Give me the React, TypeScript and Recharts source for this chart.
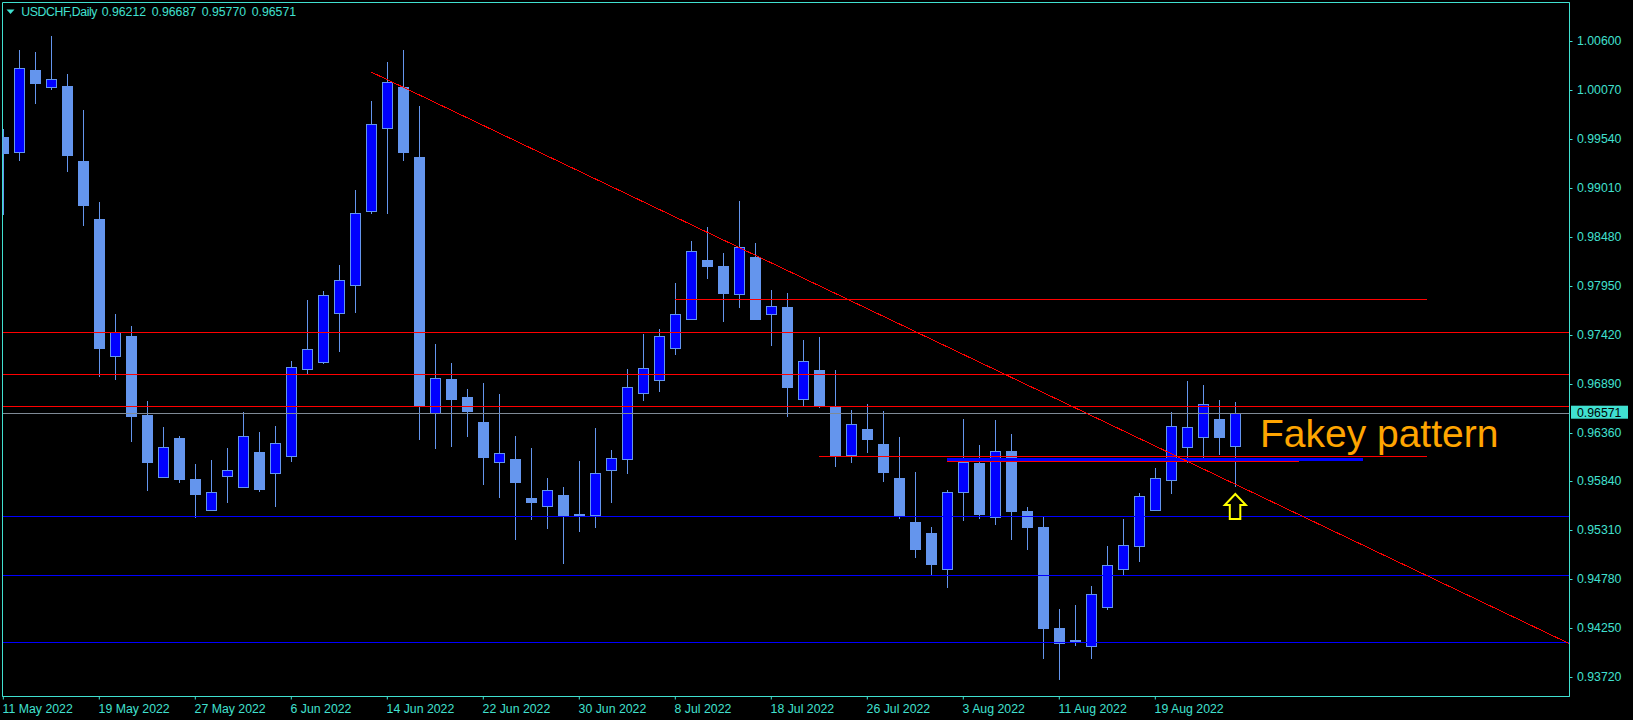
import React from 'react';
import { ComposedChart, Bar, XAxis, YAxis, ReferenceLine, ReferenceDot, ReferenceArea } from 'recharts';

// daily candles USDCHF, 11 May - 26 Aug 2022
const dates = [
  '11 May 2022', '12 May 2022', '13 May 2022', '16 May 2022', '17 May 2022', '18 May 2022', '19 May 2022', '20 May 2022',
  '23 May 2022', '24 May 2022', '25 May 2022', '26 May 2022', '27 May 2022', '30 May 2022', '31 May 2022',
  '1 Jun 2022', '2 Jun 2022', '3 Jun 2022', '6 Jun 2022', '7 Jun 2022', '8 Jun 2022', '9 Jun 2022', '10 Jun 2022',
  '13 Jun 2022', '14 Jun 2022', '15 Jun 2022', '16 Jun 2022', '17 Jun 2022', '20 Jun 2022', '21 Jun 2022', '22 Jun 2022',
  '23 Jun 2022', '24 Jun 2022', '27 Jun 2022', '28 Jun 2022', '29 Jun 2022', '30 Jun 2022',
  '1 Jul 2022', '4 Jul 2022', '5 Jul 2022', '6 Jul 2022', '7 Jul 2022', '8 Jul 2022', '11 Jul 2022', '12 Jul 2022',
  '13 Jul 2022', '14 Jul 2022', '15 Jul 2022', '18 Jul 2022', '19 Jul 2022', '20 Jul 2022', '21 Jul 2022', '22 Jul 2022',
  '25 Jul 2022', '26 Jul 2022', '27 Jul 2022', '28 Jul 2022', '29 Jul 2022',
  '1 Aug 2022', '2 Aug 2022', '3 Aug 2022', '4 Aug 2022', '5 Aug 2022', '8 Aug 2022', '9 Aug 2022', '10 Aug 2022',
  '11 Aug 2022', '12 Aug 2022', '15 Aug 2022', '16 Aug 2022', '17 Aug 2022', '18 Aug 2022', '19 Aug 2022',
  '22 Aug 2022', '23 Aug 2022', '24 Aug 2022', '25 Aug 2022', '26 Aug 2022',
];

const opens = [
  0.99558, 0.99399, 1.00283, 1.00103, 1.0011, 0.99299, 0.98672, 0.97187, 0.97406, 0.96552,
  0.95878, 0.96303, 0.95859, 0.95521, 0.95889, 0.9577, 0.96148, 0.95921, 0.96105, 0.97046,
  0.97128, 0.97652, 0.97954, 0.98755, 0.99653, 1.00096, 0.99342, 0.9657, 0.96941, 0.96746,
  0.96476, 0.96046, 0.96076, 0.95651, 0.95571, 0.95686, 0.95478, 0.95473, 0.9596, 0.96079,
  0.96786, 0.96933, 0.97273, 0.97587, 0.98225, 0.98163, 0.97857, 0.9826, 0.97641, 0.9772,
  0.96721, 0.97038, 0.96649, 0.96122, 0.964, 0.96238, 0.9587, 0.95394, 0.95275, 0.94883,
  0.95715, 0.96032, 0.95445, 0.96162, 0.95513, 0.9534, 0.94248, 0.94118, 0.94056, 0.94478,
  0.94889, 0.95138, 0.95527, 0.95845, 0.96209, 0.96317, 0.96508, 0.96212,
];
const highs = [
  0.99645, 1.00499, 1.00478, 1.00651, 1.0024, 0.9985, 0.98855, 0.97644, 0.97514, 0.96703,
  0.96422, 0.96324, 0.96022, 0.96065, 0.96195, 0.96584, 0.96368, 0.96433, 0.97136, 0.97795,
  0.97893, 0.98174, 0.98985, 0.99948, 1.0037, 1.00499, 0.99894, 0.9732, 0.97114, 0.96833,
  0.96898, 0.96779, 0.96324, 0.96195, 0.9587, 0.95773, 0.96054, 0.96411, 0.96173, 0.97049,
  0.97428, 0.97479, 0.97979, 0.98434, 0.98585, 0.98304, 0.98866, 0.98412, 0.97904, 0.97871,
  0.97363, 0.97395, 0.97038, 0.96606, 0.96671, 0.96595, 0.96314, 0.95935, 0.9534, 0.9574,
  0.96508, 0.96227, 0.96497, 0.96346, 0.95557, 0.95448, 0.94453, 0.94497, 0.94702, 0.95135,
  0.95427, 0.95708, 0.95978, 0.96581, 0.96919, 0.96876, 0.96714, 0.96687,
];
const lows = [
  0.98715, 0.99299, 0.99919, 1.00067, 0.9918, 0.98596, 0.96966, 0.9693, 0.96263, 0.95733,
  0.9587, 0.95819, 0.95441, 0.95515, 0.95603, 0.95765, 0.95722, 0.9556, 0.96046, 0.96998,
  0.97106, 0.9723, 0.97658, 0.98729, 0.98729, 0.99299, 0.96281, 0.96187, 0.96205, 0.96314,
  0.95794, 0.95654, 0.952, 0.95416, 0.95319, 0.9494, 0.95286, 0.95329, 0.956, 0.95913,
  0.96703, 0.96804, 0.97204, 0.9758, 0.98026, 0.97561, 0.97712, 0.97582, 0.97301, 0.96533,
  0.96649, 0.96627, 0.95992, 0.96036, 0.96144, 0.9583, 0.9543, 0.95008, 0.94813, 0.94684,
  0.95408, 0.9543, 0.95365, 0.95203, 0.95095, 0.93916, 0.93689, 0.94056, 0.93916, 0.94442,
  0.94813, 0.94965, 0.95517, 0.957, 0.96032, 0.96065, 0.96119, 0.9577,
];
const closes = [
  0.99389, 1.00302, 1.00146, 1.00183, 0.99367, 0.98823, 0.9728, 0.97446, 0.96544, 0.96046,
  0.96202, 0.95863, 0.957, 0.95715, 0.95953, 0.96321, 0.95754, 0.96246, 0.97068, 0.97262,
  0.97846, 0.98009, 0.98733, 0.99696, 1.0015, 0.99399, 0.96649, 0.96949, 0.96725, 0.96595,
  0.96097, 0.96137, 0.95827, 0.95611, 0.95737, 0.95473, 0.95474, 0.95921, 0.96083, 0.96851,
  0.97057, 0.97403, 0.97641, 0.98322, 0.98166, 0.97874, 0.98365, 0.97593, 0.97727, 0.96858,
  0.97132, 0.96649, 0.96108, 0.96451, 0.96295, 0.95938, 0.95462, 0.95106, 0.94943, 0.95715,
  0.9604, 0.95484, 0.96159, 0.95517, 0.95343, 0.94251, 0.94089, 0.94096, 0.94612, 0.94926,
  0.95142, 0.95672, 0.95867, 0.96429, 0.96419, 0.96671, 0.96317, 0.96571,
];

const priceTicks = [1.006, 1.0007, 0.9954, 0.9901, 0.9848, 0.9795, 0.9742, 0.9689, 0.9636, 0.9584, 0.9531, 0.9478, 0.9425, 0.9372];
const dateTicks = [0, 6, 12, 18, 24, 30, 36, 42, 48, 54, 60, 66, 72];
const lastPrice = 0.96571;
const headerValues = ['0.96212', '0.96687', '0.95770', '0.96571'];

// levels drawn across the whole chart
const redLevels = [0.97446, 0.96992, 0.96645];
const blueLevels = [0.95456, 0.94818, 0.94093];
// shorter levels: [price, from bar, to bar]
const redSegments = [
  [0.97801, 42, 89],
  [0.96103, 51, 89],
  [0.96052, 59, 81],
];
const blueZone = [0.9607, 59, 85];
// trend line: [bar, price] start and end
const trend = [
  [23, 1.00261],
  [97.8875, 0.94078],
];
const arrowAt = [77, 0.95697];
const noteAt = [78.54, 0.96209];

const xDomain = [-0.05, 97.8875];
const yDomain = [0.935069, 1.010132];

const data = dates.map((d, i) => ({ i, date: d, o: opens[i], h: highs[i], l: lows[i], c: closes[i] }));

const TEAL = '#40E0D0';
const EDGE = '#6495ED';
const FONT = '"Liberation Sans", Arial, sans-serif';

const Candle = (props: any) => {
  const { x, y, width, height, payload } = props;
  if (x == null || y == null) return null;
  const { o, h, l, c } = payload;
  const span = h - l || 1e-9;
  const py = (p: number) => y + ((h - p) / span) * height;
  const cx = Math.round(x + width / 2) + 0.5;
  const top = Math.round(py(Math.max(o, c))) + 0.5;
  const bot = Math.round(py(Math.min(o, c))) + 0.5;
  const up = c > o;
  return (
    <g>
      <line x1={cx} x2={cx} y1={Math.round(y)} y2={Math.round(y + height)} stroke={EDGE} strokeWidth={1} />
      {bot - top < 1 ? (
        <line x1={cx - 5.5} x2={cx + 5.5} y1={top} y2={top} stroke={EDGE} strokeWidth={1} />
      ) : (
        <rect x={cx - 5} y={top} width={10} height={bot - top} fill={up ? '#0000FF' : EDGE} stroke={EDGE} strokeWidth={1} />
      )}
    </g>
  );
};

const DateTick = (props: any) => {
  const { x, y, payload } = props;
  return (
    <text x={x - 0.7} y={y + 11} fill={TEAL} fontSize={12.3} fontFamily={FONT} textAnchor="start">
      {dates[payload.value]}
    </text>
  );
};

const PriceTick = (props: any) => {
  const { x, y, payload } = props;
  const v = payload.value;
  if (v === lastPrice) {
    return (
      <g>
        <rect x={x + 1.5} y={y - 7.5} width={57} height={13} fill={TEAL} />
        <text x={x + 7.5} y={y - 1} dy="0.355em" fill="#000" fontSize={12.3} fontFamily={FONT}>
          {v.toFixed(5)}
        </text>
      </g>
    );
  }
  return (
    <g>
      <line x1={x} x2={x + 3} y1={Math.round(y) + 0.5} y2={Math.round(y) + 0.5} stroke={TEAL} />
      <text x={x + 7.5} y={y} dy="0.355em" fill={TEAL} fontSize={12.3} fontFamily={FONT}>
        {v.toFixed(5)}
      </text>
    </g>
  );
};

const Arrow = (props: any) => {
  const { cx, cy } = props;
  const d = `M${cx},${cy} L${cx + 10.5},${cy + 11} L${cx + 5},${cy + 11} L${cx + 5},${cy + 25} L${cx - 5.5},${cy + 25} L${cx - 5.5},${cy + 11} L${cx - 10.5},${cy + 11} Z`;
  return <path d={d} fill="#000" stroke="#FFFF00" strokeWidth={2} />;
};

const Note = (props: any) => (
  <text x={props.cx} y={props.cy} fill="#FFA500" fontSize={39} fontFamily={FONT}>
    Fakey pattern
  </text>
);

export default function App() {
  return (
    <div style={{ position: 'absolute', left: 0, top: 0, width: 1633, height: 720, background: '#000' }}>
      <ComposedChart
        width={1633}
        height={720}
        data={data}
        margin={{ top: 2.5, right: 0, bottom: 0, left: 2.5 }}
        style={{ background: '#000' }}
      >
        <XAxis
          dataKey="i"
          type="number"
          domain={xDomain}
          allowDataOverflow
          ticks={dateTicks}
          interval={0}
          height={23.5}
          axisLine={{ stroke: TEAL }}
          tickLine={{ stroke: TEAL }}
          tickSize={3}
          tick={<DateTick />}
        />
        <YAxis
          orientation="right"
          type="number"
          domain={yDomain}
          allowDataOverflow
          ticks={[...priceTicks, lastPrice]}
          interval={0}
          width={63.5}
          axisLine={{ stroke: TEAL }}
          tickLine={false}
          tickSize={0}
          tickMargin={0}
          tick={<PriceTick />}
        />
        <ReferenceArea
          x1={xDomain[0]}
          x2={xDomain[1]}
          y1={yDomain[0]}
          y2={yDomain[1]}
          fill="none"
          fillOpacity={0}
          stroke={TEAL}
          strokeOpacity={1}
          ifOverflow="visible"
        />
        <Bar
          dataKey={(d: any) => [d.l, d.h]}
          barSize={11}
          shape={(p: any) => <Candle {...p} />}
          isAnimationActive={false}
        />
        {redLevels.map((p) => (
          <ReferenceLine key={`r${p}`} y={p} stroke="#FF0000" strokeWidth={1} shapeRendering="crispEdges" />
        ))}
        <ReferenceLine y={lastPrice} stroke="#7F8A96" strokeWidth={1} shapeRendering="crispEdges" />
        {blueLevels.map((p) => (
          <ReferenceLine key={`b${p}`} y={p} stroke="#0000FF" strokeWidth={1} shapeRendering="crispEdges" />
        ))}
        <ReferenceLine
          segment={[{ x: blueZone[1], y: blueZone[0] }, { x: blueZone[2], y: blueZone[0] }]}
          stroke="#0000FF"
          strokeWidth={3}
          shapeRendering="crispEdges"
        />
        {redSegments.map(([p, a, b]) => (
          <ReferenceLine
            key={`s${p}`}
            segment={[{ x: a, y: p }, { x: b, y: p }]}
            stroke="#FF0000"
            strokeWidth={1}
            shapeRendering="crispEdges"
          />
        ))}
        <ReferenceLine
          segment={[{ x: trend[0][0], y: trend[0][1] }, { x: trend[1][0], y: trend[1][1] }]}
          stroke="#FF0000"
          strokeWidth={1}
          shapeRendering="crispEdges"
          ifOverflow="hidden"
        />
        <ReferenceDot x={arrowAt[0]} y={arrowAt[1]} shape={(p: any) => <Arrow {...p} />} ifOverflow="visible" />
        <ReferenceDot x={noteAt[0]} y={noteAt[1]} shape={(p: any) => <Note {...p} />} ifOverflow="visible" />
      </ComposedChart>
      <div
        style={{
          position: 'absolute',
          left: 0,
          top: 0,
          width: 400,
          height: 22,
          fontFamily: FONT,
          fontSize: 12.3,
          lineHeight: '14px',
          color: TEAL,
          whiteSpace: 'pre',
        }}
      >
        <svg width={16} height={16} style={{ position: 'absolute', left: 6, top: 9 }}>
          <path d="M0.5,0.5 L8.5,0.5 L4.5,5 Z" fill={TEAL} />
        </svg>
        <span style={{ position: 'absolute', left: 21.3, top: 5, letterSpacing: -0.4 }}>USDCHF,Daily</span>
        {headerValues.map((v, k) => (
          <span key={v + k} style={{ position: 'absolute', left: 101.7 + 50 * k, top: 5 }}>
            {v}
          </span>
        ))}
      </div>
    </div>
  );
}
